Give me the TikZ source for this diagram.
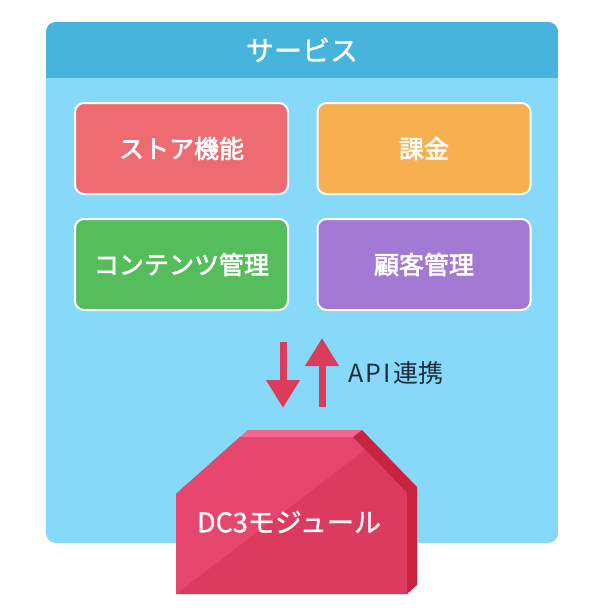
\documentclass[tikz,border=0pt]{standalone}
\usepackage{fontspec}
\newfontfamily\jp{Noto Sans CJK JP}
\newfontfamily\jpm[FakeBold=2.5]{Noto Sans CJK JP}
\newfontfamily\jpl[FakeBold=1.2]{Noto Sans CJK JP}
\usetikzlibrary{arrows.meta}
\definecolor{headc}{HTML}{47B4DB}
\definecolor{bodyc}{HTML}{86D9F9}
\definecolor{redc}{HTML}{EE6B71}
\definecolor{orangec}{HTML}{F6B04F}
\definecolor{greenc}{HTML}{55BD5C}
\definecolor{purplec}{HTML}{A27AD4}
\definecolor{arrowc}{HTML}{DC3C5C}
\definecolor{darkc}{HTML}{1D2B3A}
\definecolor{frontlo}{HTML}{DC3B5F}
\definecolor{fronthi}{HTML}{E6476F}
\definecolor{topc}{HTML}{EF6A8C}
\definecolor{sidec}{HTML}{C9233F}
\begin{document}
\begin{tikzpicture}[x=1pt,y=-1pt,
  svc/.style={draw=white, line width=2pt, rounded corners=9pt,
    minimum width=213pt, minimum height=91pt, inner sep=0pt, text=white,
    font=\jpm\fontsize{25}{25}\selectfont},
  apiarrow/.style={draw=arrowc, line width=7pt,
    -{Triangle[width=32pt,length=28pt]}}]
\useasboundingbox (0,0) rectangle (600,608);
\fill[white] (0,0) rectangle (600,608);
% container
\begin{scope}
  \clip[rounded corners=10pt] (46,22) rectangle (558,543);
  \fill[bodyc] (46,22) rectangle (558,543);
  \fill[headc] (46,22) rectangle (558,78);
\end{scope}
\node[text=white, font=\jpl\fontsize{28}{28}\selectfont] (title) at (302,50) {サービス};
% service boxes
\node[svc, fill=redc]    (store)   at (181.5,148.5) {ストア機能};
\node[svc, fill=orangec] (billing) at (424,148.5)   {課金};
\node[svc, fill=greenc]  (content) at (181.5,264.5) {コンテンツ管理};
\node[svc, fill=purplec] (customer) at (424,264.5)  {顧客管理};
% arrows
\coordinate (dtop) at (283,342);
\coordinate (dbot) at (283,408);
\coordinate (ubot) at (322,407);
\coordinate (utop) at (322,338);
\draw[apiarrow] (dtop) -- (dbot);
\draw[apiarrow] (ubot) -- (utop);
\node[anchor=west, text=darkc, font=\jp\fontsize{25}{25}\selectfont] (api) at (345,373) {A\kern2ptP\kern2ptI\kern3pt 連携};
% DC3 module block
\fill[frontlo] (176,594) -- (176,494) -- (240,437) -- (353,437) -- (407,493) -- (407,594) -- cycle;
\begin{scope}
  \clip (176,594) -- (176,494) -- (240,437) -- (353,437) -- (407,493) -- (407,594) -- cycle;
  \fill[fronthi] (176,594) -- (176,420) -- (380,420) -- (362,452) -- cycle;
\end{scope}
\fill[topc] (240,437) -- (248,430) -- (362,430) -- (353,437) -- cycle;
\fill[sidec] (353,437) -- (362,430) -- (417,487) -- (417,585) -- (407,594) -- (407,493) -- cycle;
\node[text=white, font=\jpl\fontsize{27}{27}\selectfont] (dc3) at (289,522) {DC3モジュール};
\end{tikzpicture}
\end{document}
